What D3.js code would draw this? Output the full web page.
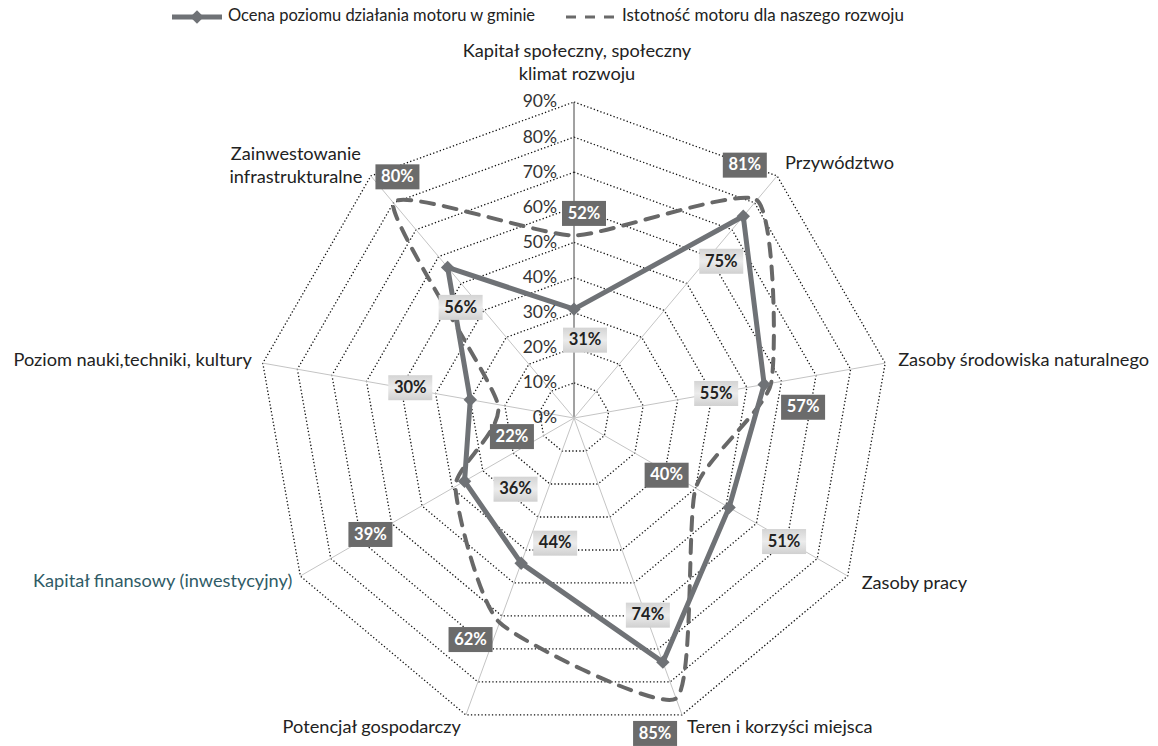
<!DOCTYPE html>
<html><head><meta charset="utf-8">
<script src="https://cdn.jsdelivr.net/npm/d3@7"></script>
<style>body{margin:0;background:#fff} svg{font-family:Lato,"Open Sans",sans-serif}</style>
</head><body><svg id="c" width="1158" height="746"></svg>
<script>
// ---- data ----
const categories = ["Kapitał społeczny, społeczny klimat rozwoju", "Przywództwo", "Zasoby środowiska naturalnego", "Zasoby pracy", "Teren i korzyści miejsca", "Potencjał gospodarczy", "Kapitał finansowy (inwestycyjny)", "Poziom nauki,techniki, kultury", "Zainwestowanie infrastrukturalne"];
const seriesNames = ["Ocena poziomu działania motoru w gminie", "Istotność motoru dla naszego rozwoju"];
const ocena = [31, 75, 55, 51, 74, 44, 36, 30, 56];
const istotnosc = [52, 81, 57, 40, 85, 62, 39, 22, 80];
const tickValues = [0, 10, 20, 30, 40, 50, 60, 70, 80, 90];

// ---- layout ----
const W = 1158, H = 746, cx = 574, cy = 418, R = 316;
const svg = d3.select("#c");
const r = d3.scaleLinear().domain([0, 90]).range([0, R]);
const step = 2 * Math.PI / categories.length;
const ang = i => i * step;
const pt = (v, i) => [cx + r(v) * Math.sin(ang(i)), cy - r(v) * Math.cos(ang(i))];

const axisLabelLayout = [
  {dx: 3, dy: -45, anchor: "middle", breakAfter: 3, color: "#222"},
  {dx: 8, dy: -7, anchor: "start", color: "#222"},
  {dx: 13, dy: 3, anchor: "start", color: "#222"},
  {dx: 14, dy: 13, anchor: "start", color: "#222"},
  {dx: 5, dy: 18, anchor: "start", color: "#222"},
  {dx: -5, dy: 18, anchor: "end", color: "#222"},
  {dx: -8, dy: 11, anchor: "end", color: "#2f5b66"},
  {dx: -11, dy: 3, anchor: "end", color: "#222"},
  {dx: -75, dy: -16, anchor: "middle", breakAfter: 1, color: "#222"}
];
// data-label offsets from their points (px)
const offOcena = [[11,31],[-22,45],[-48,9],[55,34],[-15,-47],[34,-20],[51,8],[-60,-12],[13,40]];
const offIst = [[10,-22],[-12,-35],[32,24],[-29,-13],[-21,35],[-29,17],[-85,48],[14,32],[4,-26]];

const g = svg.append("g").attr("transform", `translate(${cx},${cy})`);

// grid rings
const ring = d3.lineRadial().angle((d, i) => ang(i)).radius(d => r(d)).curve(d3.curveLinearClosed);
g.selectAll("path.ring").data(tickValues.filter(t => t > 0)).join("path")
  .attr("class", "ring")
  .attr("d", t => ring(categories.map(() => t)))
  .attr("fill", "none").attr("stroke", "#111").attr("stroke-width", 1.3)
  .attr("stroke-dasharray", "1.3,2.2");

// spokes
g.selectAll("line.spoke").data(categories).join("line")
  .attr("class", "spoke")
  .attr("x1", 0).attr("y1", 0)
  .attr("x2", (d, i) => r(90) * Math.sin(ang(i)))
  .attr("y2", (d, i) => -r(90) * Math.cos(ang(i)))
  .attr("stroke", (d, i) => i === 0 ? "#444" : "#c4c4c4")
  .attr("stroke-width", 1);

// tick labels
svg.selectAll("text.tick").data(tickValues).join("text")
  .attr("class", "tick")
  .attr("x", cx - 17).attr("y", t => cy - r(t) + 1)
  .attr("text-anchor", "end").attr("dominant-baseline", "middle")
  .attr("font-size", 17.5).attr("fill", "#333")
  .text(t => t + "%");

// axis labels
categories.forEach((c, i) => {
  const L = axisLabelLayout[i];
  const [vx, vy] = pt(90, i);
  const words = c.split(" ");
  const lines = L.breakAfter ? [words.slice(0, L.breakAfter).join(" "), words.slice(L.breakAfter).join(" ")] : [c];
  const t = svg.append("text")
    .attr("x", vx + L.dx).attr("y", vy + L.dy)
    .attr("text-anchor", L.anchor).attr("font-size", 18.2).attr("fill", L.color);
  lines.forEach((ln, k) => t.append("tspan").attr("x", vx + L.dx).attr("dy", k === 0 ? 0 : 23).text(ln));
});

// series
const lineColor = "#6f7276";
const solidLine = d3.lineRadial().angle((d, i) => ang(i)).radius(d => r(d)).curve(d3.curveLinearClosed);
const smoothLine = d3.lineRadial().angle((d, i) => ang(i)).radius(d => r(d)).curve(d3.curveCardinalClosed.tension(0.45));

g.append("path").attr("d", smoothLine(istotnosc))
  .attr("fill", "none").attr("stroke", "#686868").attr("stroke-width", 4)
  .attr("stroke-dasharray", "13,10").attr("stroke-linecap", "round");

g.append("path").attr("d", solidLine(ocena))
  .attr("fill", "none").attr("stroke", lineColor).attr("stroke-width", 5)
  .attr("stroke-linejoin", "round");

const diamond = d3.symbol(d3.symbolSquare, 90);
svg.selectAll("path.mk").data(ocena).join("path")
  .attr("class", "mk")
  .attr("d", diamond)
  .attr("transform", (v, i) => { const [x, y] = pt(v, i); return `translate(${x},${y}) rotate(45)`; })
  .attr("fill", lineColor);

// data labels
const defs = svg.append("defs");
const gr = defs.append("linearGradient").attr("id", "lg").attr("x1", 0).attr("y1", 0).attr("x2", 0).attr("y2", 1);
gr.append("stop").attr("offset", 0).attr("stop-color", "#d4d4d4");
gr.append("stop").attr("offset", 0.5).attr("stop-color", "#ececec");
gr.append("stop").attr("offset", 1).attr("stop-color", "#d0d0d0");

function labels(vals, offs, dark) {
  vals.forEach((v, i) => {
    const [x, y] = pt(v, i);
    const lx = x + offs[i][0], ly = y + offs[i][1];
    svg.append("rect").attr("x", lx - 22).attr("y", ly - 12.5).attr("width", 44).attr("height", 25)
      .attr("fill", dark ? "#6b6b6b" : "url(#lg)");
    svg.append("text").attr("x", lx).attr("y", ly + 1)
      .attr("text-anchor", "middle").attr("dominant-baseline", "middle")
      .attr("font-size", 16.5).attr("font-weight", "bold")
      .attr("fill", dark ? "#fff" : "#222").text(v + "%");
  });
}
labels(ocena, offOcena, false);
labels(istotnosc, offIst, true);

// legend
const ly = 17;
svg.append("line").attr("x1", 172).attr("x2", 222).attr("y1", ly).attr("y2", ly)
  .attr("stroke", lineColor).attr("stroke-width", 5);
svg.append("path").attr("d", diamond).attr("transform", `translate(197,${ly}) rotate(45)`).attr("fill", lineColor);
svg.append("text").attr("x", 228).attr("y", ly).attr("dominant-baseline", "middle")
  .attr("font-size", 16.5).attr("fill", "#222").text(seriesNames[0]);
svg.append("line").attr("x1", 566).attr("x2", 616).attr("y1", ly).attr("y2", ly)
  .attr("stroke", "#6a6a6a").attr("stroke-width", 3).attr("stroke-dasharray", "10,9");
svg.append("text").attr("x", 622).attr("y", ly).attr("dominant-baseline", "middle")
  .attr("font-size", 17).attr("fill", "#222").text(seriesNames[1]);
</script></body></html>
